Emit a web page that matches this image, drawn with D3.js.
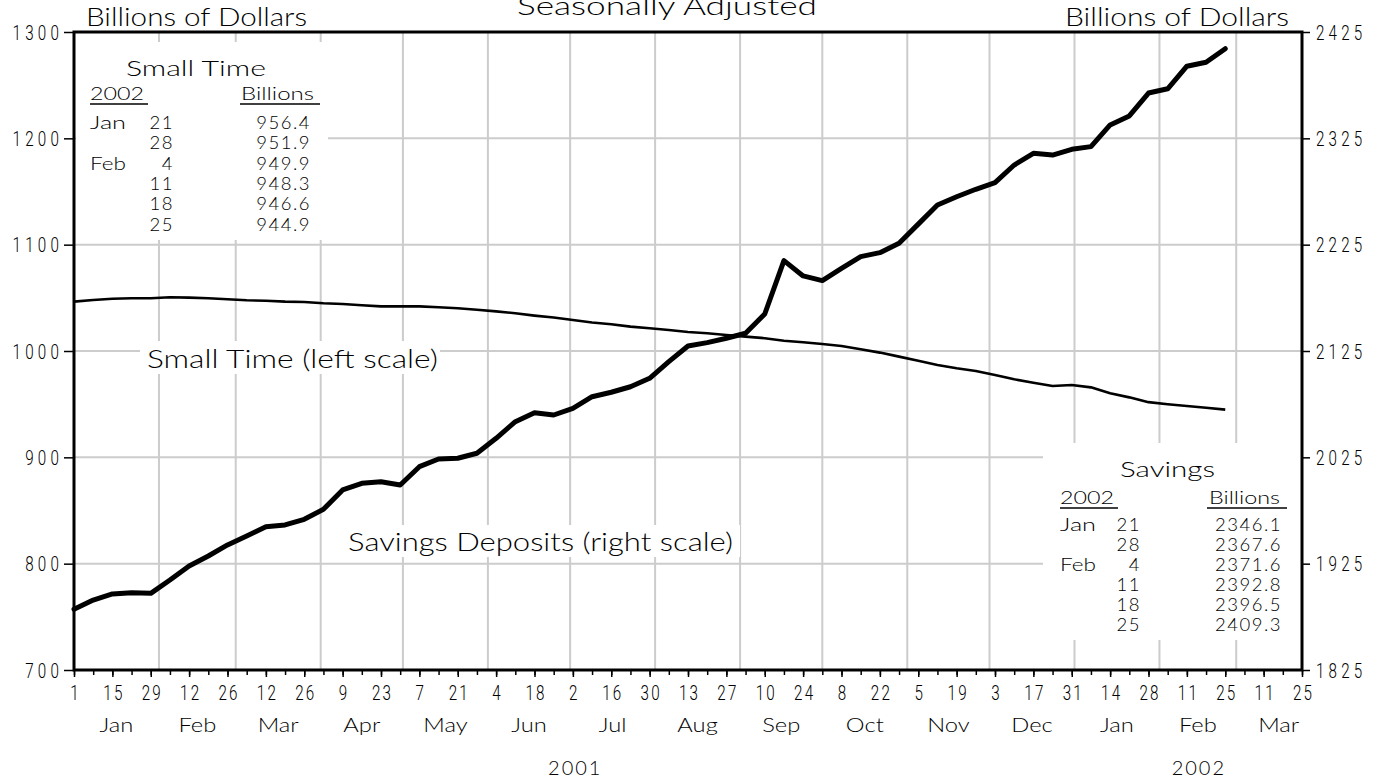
<!DOCTYPE html>
<html><head><meta charset="utf-8">
<script src="https://cdn.jsdelivr.net/npm/d3@7"></script>
<style>
html,body{margin:0;padding:0;background:#fff;}
svg{display:block;}
.t{font-family:Lato,"Open Sans",sans-serif;font-weight:300;fill:#000;}
.n{font-family:Roboto,"Liberation Sans",sans-serif;font-weight:300;fill:#000;}
</style></head><body>
<svg id="c" width="1385" height="780"></svg>
<script>
// ---------------- data ----------------
const startDate = new Date(2001, 0, 1); // first weekly observation (Monday)
const smallTime = [1046.4, 1048.0, 1049.2, 1049.6, 1049.6, 1050.5, 1050.2, 1049.6, 1048.6, 1047.7,
  1047.3, 1046.4, 1046.1, 1044.9, 1044.2, 1043.0, 1042.0, 1042.0, 1042.0, 1041.1,
  1040.2, 1038.8, 1037.3, 1035.5, 1033.3, 1031.5, 1029.2, 1026.8, 1025.1, 1022.9,
  1021.4, 1019.8, 1017.9, 1016.7, 1015.1, 1013.5, 1012.0, 1009.7, 1008.2, 1006.6,
  1004.7, 1001.6, 998.5, 994.7, 990.8, 986.8, 983.7, 981.2, 977.4, 973.4,
  970.2, 967.1, 968.0, 965.8, 960.2, 956.4, 951.9, 949.9, 948.3, 946.6, 944.9];
const savings = [1882.1, 1890.8, 1896.5, 1897.7, 1897.1, 1909.6, 1922.8, 1932.2, 1942.6, 1951.0,
  1959.8, 1961.4, 1966.7, 1976.1, 1994.3, 2000.6, 2002.1, 1999.0, 2016.2, 2023.4,
  2024.1, 2028.8, 2042.9, 2058.5, 2067.0, 2064.8, 2071.1, 2082.0, 2086.2, 2091.4,
  2099.3, 2115.0, 2129.7, 2132.9, 2137.0, 2141.7, 2159.8, 2210.0, 2195.6, 2191.2,
  2202.8, 2213.8, 2217.5, 2226.3, 2244.3, 2262.3, 2270.1, 2277.1, 2283.3, 2299.9,
  2310.9, 2309.3, 2314.7, 2317.2, 2337.6, 2346.1, 2367.6, 2371.6, 2392.8, 2396.5, 2409.3];
const leftTicks = [700, 800, 900, 1000, 1100, 1200, 1300];
const rightTicks = [1825, 1925, 2025, 2125, 2225, 2325, 2425];
const monthLabels = ["Jan","Feb","Mar","Apr","May","Jun","Jul","Aug","Sep","Oct","Nov","Dec","Jan","Feb","Mar"];
const yearLabels = ["2001", "2002"];
const tableDays = [["Jan","21"],["","28"],["Feb","4"],["","11"],["","18"],["","25"]];
const smallTimeTable = ["956.4","951.9","949.9","948.3","946.6","944.9"];
const savingsTable = ["2346.1","2367.6","2371.6","2392.8","2396.5","2409.3"];

// ---------------- layout ----------------
const L = 74, R = 1302, T = 32, B = 670;
const svg = d3.select("#c");
const x = d3.scaleTime().domain([new Date(2001,0,1), new Date(2002,2,25)]).range([L, R]);
const yL = d3.scaleLinear().domain([700, 1300]).range([B, T]);
const yR = d3.scaleLinear().domain([1825, 2425]).range([B, T]);
const dates = smallTime.map((_, i) => d3.timeDay.offset(startDate, 7 * i));

// gridlines
const grid = svg.append("g").attr("stroke", "#cccccc").attr("stroke-width", 2);
const monthStarts = d3.timeMonth.range(new Date(2001,1,1), new Date(2002,2,2));
grid.selectAll("line.v").data(monthStarts).join("line").attr("class","v")
  .attr("x1", d => x(d)).attr("x2", d => x(d)).attr("y1", T).attr("y2", B);
grid.selectAll("line.h").data(leftTicks.slice(1, -1)).join("line").attr("class","h")
  .attr("x1", L).attr("x2", R).attr("y1", d => yL(d)).attr("y2", d => yL(d));

// white boxes over grid
const boxes = [[76, 42, 252, 198], [1043, 443, 258, 197], [140, 341, 300, 33], [342, 525, 398, 32]];
svg.append("g").selectAll("rect").data(boxes).join("rect")
  .attr("x", d => d[0]).attr("y", d => d[1]).attr("width", d => d[2]).attr("height", d => d[3])
  .attr("fill", "#fff");

function txt(s, xx, yy, size, len, anchor) {
  const t = svg.append("text").attr("class", "t").attr("x", xx).attr("y", yy)
    .attr("font-size", size).text(s);
  if (len) t.attr("textLength", len).attr("lengthAdjust", "spacingAndGlyphs");
  if (anchor) t.attr("text-anchor", anchor);
  return t;
}

// titles
txt("Seasonally Adjusted", 517, 15, 25, 300);
txt("Billions of Dollars", 86, 26, 25, 221);
txt("Billions of Dollars", 1065, 26, 25, 224);
txt("Small Time (left scale)", 147, 367.5, 25, 291);
txt("Savings Deposits (right scale)", 348, 550.5, 25, 385);

// tables
function table(title, tx, tw, ty, hx, hy, bx, bw, ux1, ux2, bux1, bux2, rx, dayEnd, valEnd, rowY, rowStep, vals) {
  txt(title, tx, ty, 22, tw);
  txt("2002", hx, hy, 18, ux2 - ux1 - 4);
  txt("Billions", bx, hy, 18, bw);
  svg.append("line").attr("x1", ux1).attr("x2", ux2).attr("y1", hy + 4.5).attr("y2", hy + 4.5)
    .attr("stroke", "#000").attr("stroke-width", 1.6);
  svg.append("line").attr("x1", bux1).attr("x2", bux2).attr("y1", hy + 4.5).attr("y2", hy + 4.5)
    .attr("stroke", "#000").attr("stroke-width", 1.6);
  tableDays.forEach((d, i) => {
    const yy = rowY + i * rowStep;
    if (d[0]) txt(d[0], rx, yy, 18.5, 36);
    txt(d[1], dayEnd, yy, 18.5, null, "end").attr("letter-spacing", 1.5);
    txt(vals[i], valEnd, yy, 18.5, null, "end").attr("letter-spacing", 1.5);
  });
}
table("Small Time", 126, 140, 76, 90, 99.5, 241, 73, 90, 148, 240, 320, 90, 174, 311, 129, 20.3, smallTimeTable);
table("Savings", 1120, 95, 477, 1060, 503.5, 1209, 71, 1060, 1118, 1207, 1287, 1060, 1141, 1282, 530.7, 20.1, savingsTable);

// data lines
const lineST = d3.line().x((d, i) => x(dates[i])).y(d => yL(d));
const lineSV = d3.line().x((d, i) => x(dates[i])).y(d => yR(d));
svg.append("path").datum(smallTime).attr("d", lineST).attr("fill", "none")
  .attr("stroke", "#000").attr("stroke-width", 2.6).attr("stroke-linejoin", "round");
svg.append("path").datum(savings).attr("d", lineSV).attr("fill", "none")
  .attr("stroke", "#000").attr("stroke-width", 5).attr("stroke-linejoin", "round").attr("stroke-linecap", "round");

// frame
svg.append("rect").attr("x", L).attr("y", T).attr("width", R - L).attr("height", B - T)
  .attr("fill", "none").attr("stroke", "#000").attr("stroke-width", 3);

// axes
function styleAxis(g) {
  g.select(".domain").remove();
  g.selectAll(".tick line").attr("stroke", "#000").attr("stroke-width", 1.5);
}
const gl = svg.append("g").attr("transform", `translate(${L},0)`)
  .call(d3.axisLeft(yL).tickValues(leftTicks).tickSize(10).tickFormat(d3.format("d")));
styleAxis(gl);
gl.selectAll(".tick text").attr("class", "n").attr("font-size", 20).attr("x", null).attr("dy", null)
  .attr("y", 7.2).attr("letter-spacing", 5.5).attr("text-anchor", "end")
  .attr("transform", "translate(-11,0) scale(0.76,1)");

const gr = svg.append("g").attr("transform", `translate(${R},0)`)
  .call(d3.axisRight(yR).tickValues(rightTicks).tickSize(8).tickFormat(d3.format("d")));
styleAxis(gr);
gr.selectAll(".tick text").attr("class", "n").attr("font-size", 20).attr("x", null).attr("dy", null)
  .attr("y", 7.2).attr("letter-spacing", 5.5).attr("text-anchor", "start")
  .attr("transform", "translate(14,0) scale(0.76,1)");

const weekTicks = d3.timeMonday.range(new Date(2001,0,1), new Date(2002,2,26));
const majorTicks = weekTicks.filter((d, i) => i % 2 === 0);
const gmin = svg.append("g").attr("transform", `translate(0,${B})`)
  .call(d3.axisBottom(x).tickValues(weekTicks).tickSize(5).tickFormat(""));
styleAxis(gmin);
const gmaj = svg.append("g").attr("transform", `translate(0,${B})`)
  .call(d3.axisBottom(x).tickValues(majorTicks).tickSize(7).tickFormat(d3.timeFormat("%-d")));
styleAxis(gmaj);
gmaj.selectAll(".tick text").attr("class", "n").attr("font-size", 20).attr("dy", null)
  .attr("y", 30.5).attr("letter-spacing", 2.8).attr("text-anchor", "middle")
  .attr("transform", "translate(1,0) scale(0.76,1)");

// month labels
const months = d3.timeMonth.range(new Date(2001,0,1), new Date(2002,3,1));
svg.append("g").selectAll("text").data(months).join("text").attr("class", "t")
  .attr("x", d => (x(d) + x(d3.timeMonth.offset(d, 1))) / 2)
  .attr("y", 732).attr("font-size", 19).attr("text-anchor", "middle")
  .attr("transform", d => { const cx = (x(d) + x(d3.timeMonth.offset(d, 1))) / 2; return `translate(${cx},0) scale(1.25,1) translate(${-cx},0)`; })
  .text((d, i) => monthLabels[i]);

// year labels
const yearSpans = [[new Date(2001,0,1), new Date(2002,0,1)], [new Date(2002,0,1), new Date(2002,3,1)]];
svg.append("g").selectAll("text").data(yearSpans).join("text").attr("class", "t")
  .attr("x", d => (x(d[0]) + x(d[1])) / 2 + 1).attr("y", 775).attr("font-size", 20)
  .attr("letter-spacing", 2).attr("text-anchor", "middle")
  .text((d, i) => yearLabels[i]);
</script>
</body></html>
